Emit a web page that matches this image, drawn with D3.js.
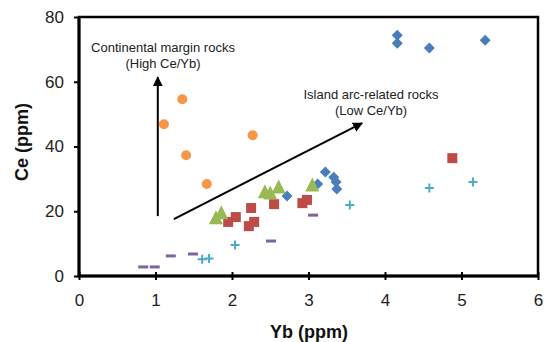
<!DOCTYPE html>
<html>
<head>
<meta charset="utf-8">
<script src="https://cdn.jsdelivr.net/npm/d3@7"></script>
<style>
  body { margin: 0; background: #fff; }
  svg { display: block; font-family: "Liberation Sans", Arial, sans-serif; }
  .axis text { font-size: 17px; fill: #222; }
  .axis line { stroke: #000; stroke-width: 2; }
  .note { font-size: 13px; fill: #222; }
  .title { font-size: 18px; font-weight: bold; fill: #111; }
</style>
</head>
<body>
<svg id="chart"></svg>
<script>
// --- data (Yb, Ce) ---
const continental = [[1.35, 54.6], [1.11, 46.9], [1.40, 37.3], [2.27, 43.5], [1.67, 28.4]];
const blueDiamonds = [[4.16, 74.4], [4.16, 71.9], [4.58, 70.4], [5.31, 72.8], [3.22, 32.1],
  [3.33, 30.5], [3.36, 29.0], [3.37, 26.9], [3.12, 28.4], [2.72, 24.7]];
const greenTriangles = [[1.79, 18.0], [1.86, 19.5], [2.43, 26.0], [2.50, 25.6], [2.61, 27.5], [3.05, 28.1]];
const redSquares = [[1.95, 16.7], [2.05, 18.2], [2.25, 21.0], [2.22, 15.4], [2.29, 16.7],
  [2.55, 22.2], [2.92, 22.5], [2.98, 23.5], [4.88, 36.4]];
const cyanPlus = [[2.04, 9.6], [1.61, 5.2], [1.70, 5.4], [3.54, 21.9], [4.58, 27.2], [5.15, 29.0]];
const purpleDash = [[0.84, 2.8], [0.99, 2.8], [1.20, 6.2], [1.49, 6.8], [2.51, 10.8], [3.06, 18.8]];

const xTicks = [0, 1, 2, 3, 4, 5, 6];
const yTicks = [0, 20, 40, 60, 80];

// annotation arrows (from -> to, data units)
const arrowHigh = [[1.03, 18.5], [1.03, 61.4]];
const arrowLow = [[1.24, 17.6], [3.70, 47.2]];
const noteHigh = ["Continental margin rocks", "(High Ce/Yb)"];
const noteLow = ["Island arc-related rocks", "(Low Ce/Yb)"];

// --- layout ---
const W = 548, H = 342;
const margin = { top: 17, right: 10, bottom: 66, left: 79 };
const width = W - margin.left - margin.right;
const height = H - margin.top - margin.bottom;

const svg = d3.select("#chart").attr("width", W).attr("height", H);
const g = svg.append("g").attr("transform", `translate(${margin.left},${margin.top})`);

const x = d3.scaleLinear().domain([0, 6]).range([0, width]);
const y = d3.scaleLinear().domain([0, 80]).range([height, 0]);

// y axis
const yAxis = g.append("g").attr("class", "axis")
  .call(d3.axisLeft(y).tickValues(yTicks).tickSize(5).tickPadding(10).tickFormat(d3.format("d")));
yAxis.select(".domain").remove();

// x axis (ticks cross the line)
const xAxis = g.append("g").attr("class", "axis")
  .attr("transform", `translate(0,${height})`)
  .call(d3.axisBottom(x).tickValues(xTicks).tickSize(4).tickPadding(14).tickFormat(d3.format("d")));
xAxis.select(".domain").remove();
xAxis.selectAll(".tick line").attr("y1", -4);

// frame
g.append("rect")
  .attr("width", width).attr("height", height)
  .attr("fill", "none").attr("stroke", "#000").attr("stroke-width", 2.5);
g.append("path")
  .attr("d", `M0,0V${height}H${width}`)
  .attr("fill", "none").attr("stroke", "#000").attr("stroke-width", 3);

// arrows
svg.append("defs").append("marker")
  .attr("id", "head")
  .attr("viewBox", "0 0 10 10")
  .attr("refX", 9).attr("refY", 5)
  .attr("markerWidth", 5).attr("markerHeight", 5)
  .attr("markerUnits", "strokeWidth")
  .attr("orient", "auto")
  .append("path").attr("d", "M0,0L10,5L0,10Z").attr("fill", "#000");

[arrowHigh, arrowLow].forEach(a => {
  g.append("line")
    .attr("x1", x(a[0][0])).attr("y1", y(a[0][1]))
    .attr("x2", x(a[1][0])).attr("y2", y(a[1][1]))
    .attr("stroke", "#000").attr("stroke-width", 2)
    .attr("marker-end", "url(#head)");
});

// notes
function note(lines, cx, baseY) {
  lines.forEach((t, i) => {
    svg.append("text").attr("class", "note")
      .attr("x", cx).attr("y", baseY + i * 16)
      .attr("text-anchor", "middle").text(t);
  });
}
note(noteHigh, 163, 52);
note(noteLow, 371, 99);

// --- markers ---
const plot = g.append("g");

plot.selectAll(".circ").data(continental).enter().append("circle")
  .attr("cx", d => x(d[0])).attr("cy", d => y(d[1])).attr("r", 5)
  .attr("fill", "#f79646");

plot.selectAll(".dia").data(blueDiamonds).enter().append("path")
  .attr("transform", d => `translate(${x(d[0])},${y(d[1])})`)
  .attr("d", "M0,-5.5L5.5,0L0,5.5L-5.5,0Z")
  .attr("fill", "#4a7ebb");

plot.selectAll(".sq").data(redSquares).enter().append("rect")
  .attr("x", d => x(d[0]) - 5).attr("y", d => y(d[1]) - 5)
  .attr("width", 10).attr("height", 10)
  .attr("fill", "#be4b48");

plot.selectAll(".tri").data(greenTriangles).enter().append("path")
  .attr("transform", d => `translate(${x(d[0])},${y(d[1])})`)
  .attr("d", "M0,-7.5L7,6.5L-7,6.5Z")
  .attr("fill", "#98b954");

plot.selectAll(".plus").data(cyanPlus).enter().append("path")
  .attr("transform", d => `translate(${x(d[0])},${y(d[1])})`)
  .attr("d", "M-4.5,0H4.5M0,-4.5V4.5")
  .attr("stroke", "#4bacc6").attr("stroke-width", 2).attr("fill", "none");

plot.selectAll(".dash").data(purpleDash).enter().append("rect")
  .attr("x", d => x(d[0]) - 5).attr("y", d => y(d[1]) - 1.5)
  .attr("width", 10).attr("height", 3)
  .attr("fill", "#8064a2");

// axis titles
svg.append("text").attr("class", "title")
  .attr("x", 309).attr("y", 338)
  .attr("text-anchor", "middle").text("Yb (ppm)");
svg.append("text").attr("class", "title")
  .attr("transform", "translate(28,142) rotate(-90)")
  .attr("text-anchor", "middle").text("Ce (ppm)");
</script>
</body>
</html>
